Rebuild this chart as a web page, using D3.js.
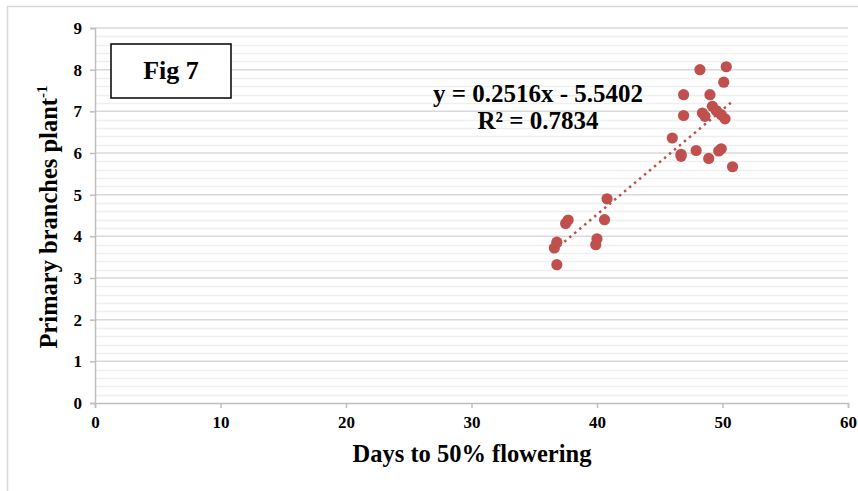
<!DOCTYPE html>
<html>
<head>
<meta charset="utf-8">
<script src="https://cdn.jsdelivr.net/npm/d3@7"></script>
<style>
  body { margin: 0; background: #fff; }
  text { font-family: "Liberation Serif", "Times New Roman", serif; font-weight: bold; fill: #000; }
</style>
</head>
<body>
<div id="chart"></div>
<script>
// days to 50% flowering
const daysFlowering = [
  36.8, 36.6, 36.8, 37.5, 37.7, 39.9, 40.0, 40.6, 40.8,
  46.0, 46.7, 46.7, 46.9, 46.9, 47.9, 48.2, 48.4, 48.6, 48.9,
  49.0, 49.2, 49.5, 49.7, 49.9, 49.9, 50.1, 50.2, 50.3, 50.8
];
// primary branches per plant
const primaryBranches = [
  3.32, 3.72, 3.86, 4.31, 4.39, 3.80, 3.94, 4.40, 4.90,
  6.36, 5.97, 5.92, 6.90, 7.40, 6.06, 8.00, 6.96, 6.88, 5.87,
  7.40, 7.12, 7.02, 6.05, 6.10, 6.92, 7.70, 6.82, 8.07, 5.67
];
const xTicks = [0, 10, 20, 30, 40, 50, 60];
const yTicks = [0, 1, 2, 3, 4, 5, 6, 7, 8, 9];
const slope = 0.2516, intercept = -5.5402;
const eqText = "y = 0.2516x - 5.5402";
const r2Text = "R² = 0.7834";

const W = 858, H = 491;
const M = { TOP: 28, LEFT: 95, RIGHT: 10, BOTTOM: 88 };
const w = 848 - M.LEFT, h = 403 - M.TOP;

const svg = d3.select('#chart').append('svg')
  .attr('width', W).attr('height', H);

// outer chart border
svg.append('rect')
  .attr('x', 7.5).attr('y', 6.5)
  .attr('width', 860).attr('height', 500)
  .attr('fill', 'none').attr('stroke', '#d9d9d9').attr('stroke-width', 1.5);

const g = svg.append('g').attr('transform', `translate(${M.LEFT},${M.TOP})`);

const x = d3.scaleLinear().domain([0, 60]).range([0, w]);
const y = d3.scaleLinear().domain([0, 9]).range([h, 0]);

// minor gridlines every 0.2
const minor = d3.range(0, 9.001, 0.2).filter(v => Math.abs(v - Math.round(v)) > 0.01);
g.selectAll('.minor').data(minor).join('line')
  .attr('x1', 0).attr('x2', w)
  .attr('y1', d => Math.round(y(d)) + 0.5).attr('y2', d => Math.round(y(d)) + 0.5)
  .attr('stroke', '#efefef').attr('stroke-width', 1.5);

// major gridlines
g.selectAll('.major').data(yTicks.slice(1)).join('line')
  .attr('x1', 0).attr('x2', w)
  .attr('y1', d => y(d)).attr('y2', d => y(d))
  .attr('stroke', '#d9d9d9').attr('stroke-width', 1.5);

// axes
const xAxis = g.append('g').attr('transform', `translate(0,${h})`)
  .call(d3.axisBottom(x).tickValues(xTicks).tickSize(5).tickPadding(6));
const yAxis = g.append('g')
  .call(d3.axisLeft(y).tickValues(yTicks).tickSize(5).tickPadding(8));

[xAxis, yAxis].forEach(a => {
  a.select('.domain').attr('stroke', '#bfbfbf').attr('stroke-width', 1.5);
  a.selectAll('.tick line').attr('stroke', '#bfbfbf').attr('stroke-width', 1.5);
  a.selectAll('.tick text')
    .attr('font-family', '"Liberation Serif", serif')
    .attr('font-weight', 'bold')
    .attr('font-size', 17).attr('fill', '#000');
});
xAxis.selectAll('.tick text').attr('dy', '0.85em');

// trendline
const xMin = d3.min(daysFlowering), xMax = d3.max(daysFlowering);
g.append('line')
  .attr('x1', x(xMin)).attr('y1', y(slope * xMin + intercept))
  .attr('x2', x(xMax)).attr('y2', y(slope * xMax + intercept))
  .attr('stroke', '#c0504d').attr('stroke-width', 2.5)
  .attr('stroke-dasharray', '2.5,4').attr('stroke-linecap', 'butt');

// points
g.selectAll('circle').data(daysFlowering).join('circle')
  .attr('cx', (d, i) => x(d))
  .attr('cy', (d, i) => y(primaryBranches[i]))
  .attr('r', 5.6)
  .attr('fill', '#c0504d');

// equation
svg.append('text').attr('x', 538).attr('y', 102)
  .attr('text-anchor', 'middle').attr('font-size', 25).text(eqText);
svg.append('text').attr('x', 538).attr('y', 129)
  .attr('text-anchor', 'middle').attr('font-size', 25).text(r2Text);

// Fig 7 box
svg.append('rect')
  .attr('x', 111).attr('y', 44).attr('width', 120).attr('height', 54)
  .attr('fill', '#fff').attr('stroke', '#000').attr('stroke-width', 1.5);
svg.append('text').attr('x', 171).attr('y', 79)
  .attr('text-anchor', 'middle').attr('font-size', 26).text('Fig 7');

// axis titles
svg.append('text').attr('x', 472).attr('y', 462)
  .attr('text-anchor', 'middle').attr('font-size', 24.5).text('Days to 50% flowering');

const yt = svg.append('text')
  .attr('transform', 'translate(57,217) rotate(-90)')
  .attr('text-anchor', 'middle').attr('font-size', 24.5);
yt.append('tspan').text('Primary branches plant');
yt.append('tspan').attr('font-size', 15).attr('dy', -10).text('-1');
</script>
</body>
</html>
